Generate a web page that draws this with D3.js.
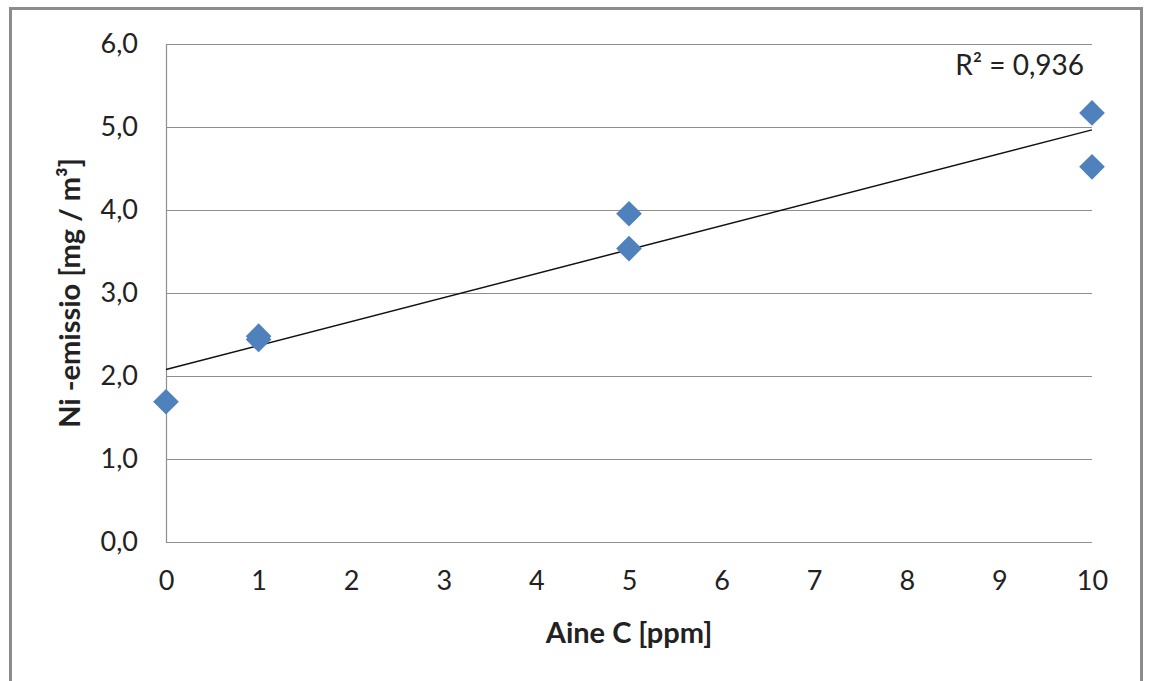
<!DOCTYPE html>
<html>
<head>
<meta charset="utf-8">
<script src="https://cdn.jsdelivr.net/npm/d3@7/dist/d3.min.js"></script>
<style>
  html, body { margin: 0; padding: 0; background: #ffffff; }
  svg { display: block; }
  text { font-family: Lato, 'Open Sans', sans-serif; fill: #222; }
</style>
</head>
<body>
<div id="chart"></div>
<script>
// measured points: Aine C [ppm] vs Ni-emissio [mg/m3]
const xValues = [0, 1, 1, 5, 5, 10, 10]
const yValues = [1.69, 2.48, 2.44, 3.955, 3.535, 5.17, 4.52]
const xTicks = [0, 1, 2, 3, 4, 5, 6, 7, 8, 9, 10]
const yTicks = [0, 1, 2, 3, 4, 5, 6]
const r2Label = 'R² = 0,936'

const width = 1149
const height = 681
const margin = { top: 44, right: 57, bottom: 139, left: 166 }
const innerW = width - margin.left - margin.right
const innerH = height - margin.top - margin.bottom

const svg = d3.select('#chart').append('svg')
  .attr('width', width)
  .attr('height', height)

// outer chart frame (bottom edge is cut off in the reference)
svg.append('rect')
  .attr('x', 10.5).attr('y', 8.5)
  .attr('width', 1131).attr('height', 700)
  .attr('fill', 'none')
  .attr('stroke', '#8c8c8c')
  .attr('stroke-width', 3)

const g = svg.append('g').attr('transform', `translate(${margin.left},${margin.top})`)

const x = d3.scaleLinear().domain([0, 10]).range([0, innerW])
const y = d3.scaleLinear().domain([0, 6]).range([innerH, 0])

// horizontal gridlines
g.append('g')
  .selectAll('line')
  .data(yTicks)
  .join('line')
  .attr('x1', 0).attr('x2', innerW)
  .attr('y1', d => Math.round(y(d)) + 0.5).attr('y2', d => Math.round(y(d)) + 0.5)
  .attr('stroke', '#8e8e8e')
  .attr('stroke-width', 1.2)

// y axis
const fmt = d => d.toFixed(1).replace('.', ',')
const gy = g.append('g').call(d3.axisLeft(y).tickValues(yTicks).tickFormat(fmt).tickSize(0).tickPadding(28))
gy.select('.domain').attr('stroke', '#8e8e8e').attr('stroke-width', 1.2)
gy.selectAll('text').attr('font-size', 27).attr('fill', '#222').attr('font-family', 'Lato, sans-serif')

// x axis
const gx = g.append('g').attr('transform', `translate(0,${innerH})`)
  .call(d3.axisBottom(x).tickValues(xTicks).tickFormat(d3.format('d')).tickSize(0).tickPadding(29))
gx.select('.domain').remove()
gx.selectAll('text').attr('font-size', 27).attr('fill', '#222').attr('font-family', 'Lato, sans-serif')

// linear trendline (least squares over the points)
const mx = d3.mean(xValues)
const my = d3.mean(yValues)
const sxy = d3.sum(xValues, (v, i) => (v - mx) * (yValues[i] - my))
const sxx = d3.sum(xValues, v => (v - mx) * (v - mx))
const slope = sxy / sxx
const intercept = my - slope * mx
g.append('line')
  .attr('x1', x(0)).attr('y1', y(intercept))
  .attr('x2', x(10)).attr('y2', y(intercept + slope * 10))
  .attr('stroke', '#111')
  .attr('stroke-width', 1.5)

// diamond markers
const diamond = d3.symbol().type(d3.symbolSquare).size(330)
g.append('g')
  .selectAll('path')
  .data(xValues.map((v, i) => ({ x: v, y: yValues[i] })))
  .join('path')
  .attr('d', diamond)
  .attr('transform', d => `translate(${x(d.x)},${y(d.y)}) rotate(45)`)
  .attr('fill', '#4f81bd')

// R² label
g.append('text')
  .attr('x', innerW - 8)
  .attr('y', 31)
  .attr('text-anchor', 'end')
  .attr('font-size', 28)
  .text(r2Label)

// axis titles
svg.append('text')
  .attr('x', margin.left + innerW / 2)
  .attr('y', 643)
  .attr('text-anchor', 'middle')
  .attr('font-size', 29)
  .attr('font-weight', 'bold')
  .text('Aine C [ppm]')

svg.append('text')
  .attr('transform', `translate(80,${margin.top + innerH / 2}) rotate(-90)`)
  .attr('text-anchor', 'middle')
  .attr('font-size', 29)
  .attr('font-weight', 'bold')
  .text('Ni -emissio [mg / m³]')
</script>
</body>
</html>
